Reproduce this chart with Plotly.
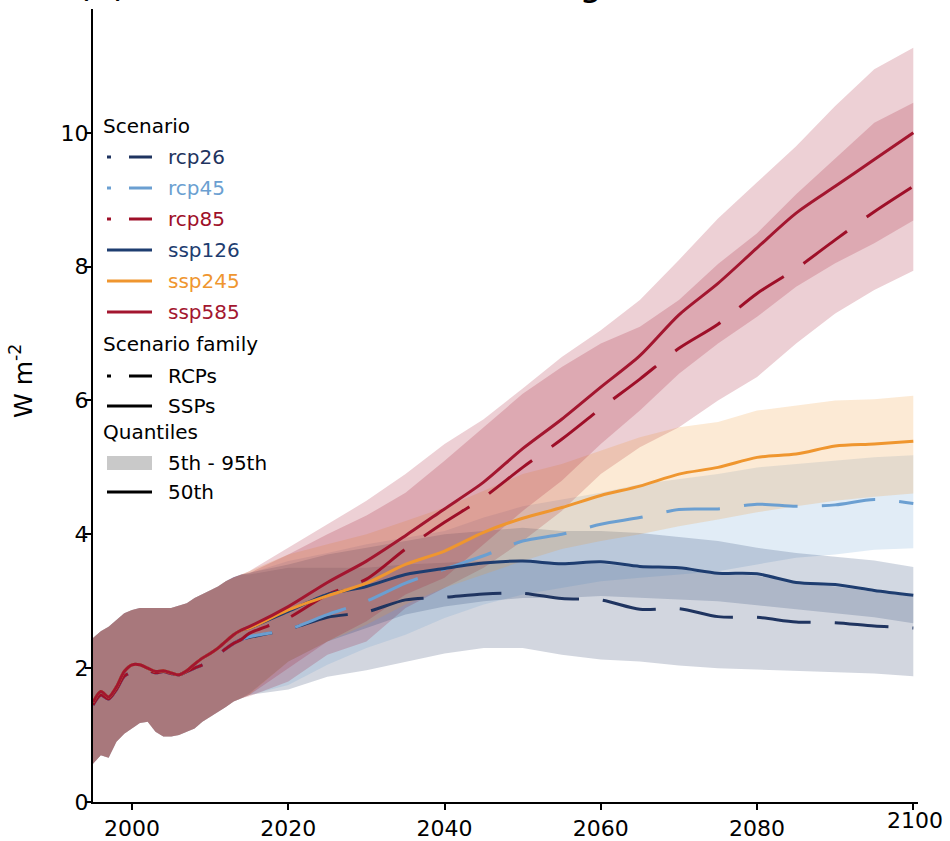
import plotly.graph_objects as go

# ---------------------------------------------------------------- data
# Shared historical period (yearly), then scenario projections every 5 years
HIST_YEARS = list(range(1995, 2015))
PROJ_YEARS = list(range(2015, 2101, 5))

SSP_HIST_MEDIAN = [1.49, 1.65, 1.57, 1.72, 1.95, 2.05, 2.05, 2.00, 1.95, 1.96,
                   1.93, 1.90, 1.96, 2.06, 2.15, 2.22, 2.30, 2.40, 2.50, 2.57]
RCP_HIST_MEDIAN = [1.45, 1.60, 1.54, 1.68, 1.88, 1.94, 1.95, 1.97, 1.93, 1.95,
                   1.92, 1.90, 1.95, 2.00, 2.05, 2.12, 2.20, 2.29, 2.37, 2.43]
HIST_LOWER = [0.57, 0.70, 0.66, 0.90, 1.02, 1.10, 1.18, 1.20, 1.05, 0.98,
              0.98, 1.00, 1.05, 1.10, 1.20, 1.27, 1.35, 1.42, 1.50, 1.55]
HIST_UPPER = [2.45, 2.55, 2.62, 2.72, 2.82, 2.87, 2.90, 2.90, 2.90, 2.90,
              2.90, 2.93, 2.97, 3.05, 3.10, 3.16, 3.22, 3.30, 3.36, 3.40]

# 50th percentile, 2015-2100
RCP26_MEDIAN = [2.46, 2.58, 2.76, 2.84, 3.02, 3.06, 3.11, 3.12, 3.04, 3.02, 2.88, 2.89, 2.77, 2.76, 2.69, 2.68, 2.63, 2.60]
RCP45_MEDIAN = [2.47, 2.58, 2.80, 3.00, 3.27, 3.48, 3.68, 3.90, 4.00, 4.15, 4.25, 4.37, 4.38, 4.45, 4.42, 4.44, 4.52, 4.46]
RCP85_MEDIAN = [2.52, 2.75, 3.10, 3.33, 3.78, 4.18, 4.55, 5.00, 5.42, 5.88, 6.32, 6.78, 7.14, 7.60, 7.97, 8.40, 8.82, 9.20]
SSP126_MEDIAN = [2.60, 2.85, 3.10, 3.22, 3.40, 3.49, 3.57, 3.60, 3.56, 3.59, 3.52, 3.50, 3.42, 3.41, 3.28, 3.25, 3.16, 3.09]
SSP245_MEDIAN = [2.60, 2.87, 3.08, 3.27, 3.55, 3.75, 4.03, 4.24, 4.40, 4.58, 4.72, 4.90, 5.00, 5.15, 5.20, 5.32, 5.35, 5.39]
SSP585_MEDIAN = [2.62, 2.92, 3.28, 3.60, 3.98, 4.38, 4.78, 5.28, 5.72, 6.20, 6.67, 7.28, 7.75, 8.28, 8.80, 9.20, 9.60, 10.00]

# 5th and 95th percentiles, 2015-2100
RCP26_LOWER = [1.60, 1.68, 1.87, 1.97, 2.10, 2.22, 2.30, 2.30, 2.20, 2.13, 2.10, 2.04, 2.00, 1.98, 1.95, 1.93, 1.92, 1.88]
RCP26_UPPER = [3.40, 3.50, 3.50, 3.50, 3.55, 3.58, 3.60, 3.62, 3.58, 3.56, 3.50, 3.48, 3.42, 3.38, 3.28, 3.22, 3.14, 3.07]
RCP45_LOWER = [1.60, 1.75, 2.05, 2.30, 2.50, 2.75, 2.95, 3.10, 3.20, 3.30, 3.35, 3.40, 3.45, 3.55, 3.65, 3.70, 3.77, 3.79]
RCP45_UPPER = [3.42, 3.60, 3.72, 3.85, 3.95, 4.05, 4.25, 4.42, 4.52, 4.62, 4.75, 4.82, 4.90, 5.00, 5.05, 5.10, 5.15, 5.18]
RCP85_LOWER = [1.58, 1.80, 2.20, 2.40, 2.90, 3.20, 3.50, 3.90, 4.35, 4.90, 5.30, 5.60, 6.00, 6.35, 6.85, 7.30, 7.65, 7.94]
RCP85_UPPER = [3.42, 3.70, 4.00, 4.28, 4.62, 5.10, 5.60, 6.10, 6.50, 6.85, 7.10, 7.50, 8.04, 8.50, 9.08, 9.62, 10.15, 10.45]
SSP126_LOWER = [1.62, 2.10, 2.40, 2.60, 2.80, 2.92, 3.00, 3.05, 3.05, 3.08, 3.05, 3.03, 3.00, 2.94, 2.88, 2.83, 2.76, 2.67]
SSP126_UPPER = [3.42, 3.55, 3.70, 3.80, 3.90, 4.00, 4.05, 4.10, 4.05, 4.05, 4.02, 3.96, 3.90, 3.80, 3.72, 3.66, 3.61, 3.51]
SSP245_LOWER = [1.60, 2.10, 2.40, 2.65, 2.95, 3.20, 3.40, 3.60, 3.78, 3.90, 4.00, 4.12, 4.22, 4.33, 4.42, 4.50, 4.56, 4.61]
SSP245_UPPER = [3.45, 3.70, 3.85, 4.00, 4.20, 4.40, 4.65, 4.90, 5.05, 5.25, 5.45, 5.60, 5.68, 5.85, 5.92, 6.00, 6.02, 6.07]
SSP585_LOWER = [1.60, 2.00, 2.40, 2.70, 3.10, 3.35, 3.85, 4.35, 4.80, 5.35, 5.85, 6.40, 6.85, 7.25, 7.70, 8.05, 8.35, 8.69]
SSP585_UPPER = [3.45, 3.80, 4.15, 4.50, 4.90, 5.35, 5.72, 6.18, 6.65, 7.05, 7.50, 8.10, 8.72, 9.26, 9.80, 10.40, 10.95, 11.27]

SCENARIO_NAMES = ["rcp26", "rcp45", "rcp85", "ssp126", "ssp245", "ssp585"]
SCENARIO_COLORS = ["#1f3460", "#6b9fd1", "#9e0f28", "#1e3d70", "#ef962f", "#a3162f"]

X_TICKS = [2000, 2020, 2040, 2060, 2080, 2100]
Y_TICKS = [0, 2, 4, 6, 8, 10]

# ---------------------------------------------------------------- helpers
scenarios = [
    ("rcp26", RCP_HIST_MEDIAN, RCP26_MEDIAN, RCP26_LOWER, RCP26_UPPER, "54px,24px"),
    ("rcp45", RCP_HIST_MEDIAN, RCP45_MEDIAN, RCP45_LOWER, RCP45_UPPER, "54px,24px"),
    ("rcp85", RCP_HIST_MEDIAN, RCP85_MEDIAN, RCP85_LOWER, RCP85_UPPER, "54px,24px"),
    ("ssp126", SSP_HIST_MEDIAN, SSP126_MEDIAN, SSP126_LOWER, SSP126_UPPER, "solid"),
    ("ssp245", SSP_HIST_MEDIAN, SSP245_MEDIAN, SSP245_LOWER, SSP245_UPPER, "solid"),
    ("ssp585", SSP_HIST_MEDIAN, SSP585_MEDIAN, SSP585_LOWER, SSP585_UPPER, "solid"),
]
color_of = dict(zip(SCENARIO_NAMES, SCENARIO_COLORS))


def rgba(hex_color, alpha):
    h = hex_color.lstrip("#")
    r, g, b = int(h[0:2], 16), int(h[2:4], 16), int(h[4:6], 16)
    return f"rgba({r},{g},{b},{alpha})"


years = HIST_YEARS + PROJ_YEARS
fig = go.Figure()

# 5th-95th percentile ranges
for name, hist_med, med, lo, hi, dash in scenarios:
    lower = HIST_LOWER + lo
    upper = HIST_UPPER + hi
    fig.add_trace(go.Scatter(
        x=years + years[::-1], y=lower + upper[::-1],
        fill="toself", fillcolor=rgba(color_of[name], 0.2),
        line=dict(width=0), mode="lines", hoverinfo="skip", showlegend=False,
    ))

# medians
for name, hist_med, med, lo, hi, dash in scenarios:
    fig.add_trace(go.Scatter(
        x=years, y=hist_med + med, mode="lines", name=name,
        line=dict(color=color_of[name], width=3, dash=dash, shape="spline", smoothing=0.8),
        showlegend=False,
    ))

# ---------------------------------------------------------------- layout
FONT = "DejaVu Sans"
PLOT_L, PLOT_T, PLOT_W, PLOT_H = 93, 9, 825, 793


def px_x(x):
    return (x - PLOT_L) / PLOT_W


def px_y(y):
    return 1 - (y - PLOT_T) / PLOT_H


annotations = []
shapes = []

# figure title (runs off the top of the page)
annotations.append(dict(
    text="(a) Effective radiative forcing", xref="paper", yref="paper",
    x=px_x(75), y=px_y(6), xanchor="left", yanchor="bottom", showarrow=False,
    font=dict(family=FONT, size=36, color="black"),
))

# y-axis title
annotations.append(dict(
    text="W m<sup>-2</sup>", xref="paper", yref="paper", x=px_x(21), y=px_y(381),
    xanchor="center", yanchor="middle", textangle=-90, showarrow=False,
    font=dict(family=FONT, size=25, color="black"),
))

# last x tick label, set slightly higher than the others
annotations.append(dict(
    text="2100", xref="x", yref="paper", x=2100, y=px_y(806), xanchor="center",
    yanchor="top", showarrow=False, font=dict(family=FONT, size=22, color="black"),
    xshift=2,
))

# legend
HEAD_X, SAMPLE_X0, SAMPLE_X1, LABEL_X = 101, 107, 152, 166
legend_rows = [
    ("head", "Scenario", None, None, 126),
    ("line", "rcp26", color_of["rcp26"], "dash", 157),
    ("line", "rcp45", color_of["rcp45"], "dash", 188),
    ("line", "rcp85", color_of["rcp85"], "dash", 219),
    ("line", "ssp126", color_of["ssp126"], "solid", 250),
    ("line", "ssp245", color_of["ssp245"], "solid", 281),
    ("line", "ssp585", color_of["ssp585"], "solid", 312),
    ("head", "Scenario family", None, None, 344),
    ("line", "RCPs", "black", "dash", 376),
    ("line", "SSPs", "black", "solid", 406),
    ("head", "Quantiles", None, None, 432),
    ("patch", "5th - 95th", "#c9c9c9", None, 463),
    ("line", "50th", "black", "solid", 492),
]
for kind, label, col, dash, y in legend_rows:
    if kind == "head":
        annotations.append(dict(
            text=label, xref="paper", yref="paper", x=px_x(HEAD_X), y=px_y(y),
            xanchor="left", yanchor="middle", showarrow=False,
            font=dict(family=FONT, size=20, color="black"),
        ))
        continue
    text_col = col if label in SCENARIO_NAMES else "black"
    annotations.append(dict(
        text=label, xref="paper", yref="paper", x=px_x(LABEL_X), y=px_y(y),
        xanchor="left", yanchor="middle", showarrow=False,
        font=dict(family=FONT, size=20, color=text_col),
    ))
    if kind == "patch":
        shapes.append(dict(
            type="rect", xref="paper", yref="paper",
            x0=px_x(SAMPLE_X0), x1=px_x(SAMPLE_X1), y0=px_y(y - 7), y1=px_y(y + 7),
            fillcolor=col, line=dict(width=0),
        ))
    else:
        shapes.append(dict(
            type="line", xref="paper", yref="paper",
            x0=px_x(SAMPLE_X0), x1=px_x(SAMPLE_X1), y0=px_y(y), y1=px_y(y),
            line=dict(color=col, width=3.2,
                      dash="4px,18px,23px" if dash == "dash" else "solid"),
        ))

axis_style = dict(
    showline=True, linecolor="black", linewidth=2, ticks="outside", ticklen=6,
    tickwidth=2, tickcolor="black", showgrid=False, zeroline=False, automargin=False,
    tickfont=dict(family=FONT, size=22, color="black"),
)

fig.update_layout(
    width=950, height=841,
    margin=dict(l=PLOT_L, r=950 - PLOT_L - PLOT_W, t=PLOT_T, b=841 - PLOT_T - PLOT_H),
    paper_bgcolor="white", plot_bgcolor="white",
    font=dict(family=FONT, color="black"),
    xaxis=dict(range=[1995, 2100.6], tickvals=X_TICKS,
               ticktext=[str(t) for t in X_TICKS[:-1]] + [""], ticklabelstandoff=0,
               **axis_style),
    yaxis=dict(range=[0, 11.85], tickvals=Y_TICKS, ticklabelstandoff=-8, **axis_style),
    annotations=annotations, shapes=shapes, showlegend=False,
)

fig.write_html("out.html")
